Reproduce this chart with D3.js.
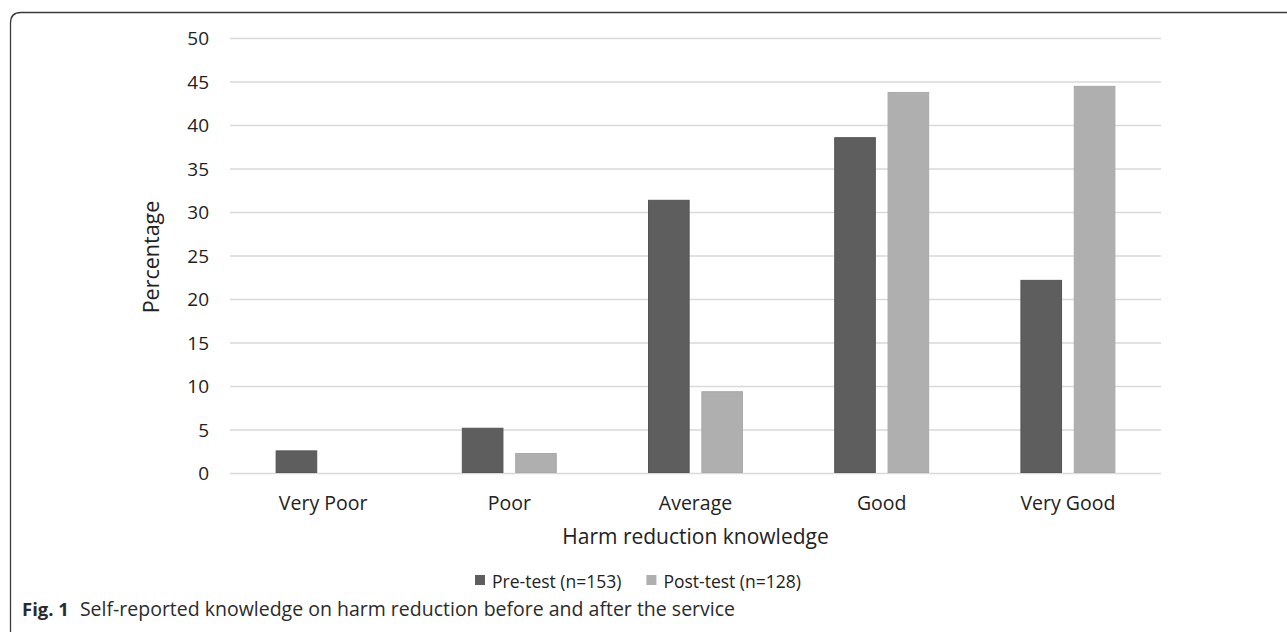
<!DOCTYPE html>
<html>
<head>
<meta charset="utf-8">
<script src="https://cdn.jsdelivr.net/npm/d3@7/dist/d3.min.js"></script>
<style>
  html, body { margin: 0; padding: 0; background: #fff; }
  svg { display: block; }
</style>
</head>
<body>
<svg id="chart" width="1287" height="632"></svg>
<script>
const categories = ["Very Poor", "Poor", "Average", "Good", "Very Good"];
const seriesNames = ["Pre-test (n=153)", "Post-test (n=128)"];
const preTest = [2.6, 5.2, 31.4, 38.6, 22.2];
const postTest = [0, 2.3, 9.4, 43.8, 44.5];
const yTicks = [0, 5, 10, 15, 20, 25, 30, 35, 40, 45, 50];
const xTitle = "Harm reduction knowledge";
const yTitle = "Percentage";
const captionBold = "Fig. 1";
const captionText = "Self-reported knowledge on harm reduction before and after the service";

const colors = ["#5e5e5e", "#afafaf"];
const strokes = ["#555555", "#a9a9a9"];
const font = "'Open Sans', 'Noto Sans', sans-serif";
const textColor = "#222222";

const svg = d3.select("#chart");

// Frame (rounded top-left corner, open right/bottom)
svg.append("path")
  .attr("d", "M10.5,632 L10.5,23 Q10.5,12.5 21,12.5 L1287,12.5")
  .attr("fill", "none").attr("stroke", "#3a3a3a").attr("stroke-width", 1.3);

const plotLeft = 230, plotRight = 1161, plotTop = 38, plotBottom = 473;

const y = d3.scaleLinear().domain([0, 50]).range([plotBottom, plotTop]);
const x0 = d3.scaleBand().domain(categories).range([plotLeft, plotRight])
  .paddingInner(0.49).paddingOuter(0.245);
const x1 = d3.scaleBand().domain(seriesNames).range([0, x0.bandwidth()]).paddingInner(0.22);

// Gridlines
const yAxis = d3.axisLeft(y).tickValues(yTicks).tickSize(-(plotRight - plotLeft)).tickPadding(21);
const gy = svg.append("g").attr("transform", `translate(${plotLeft},0)`).call(yAxis);
gy.select(".domain").remove();
gy.selectAll(".tick line").attr("stroke", "#d9d9d9").attr("stroke-width", 1.6);
gy.selectAll(".tick text").attr("fill", textColor).attr("font-family", font)
  .attr("font-size", 19).attr("dy", "0.36em");

// Bars
const data = categories.map((c, i) => ({ cat: c, vals: [preTest[i], postTest[i]] }));
const groups = svg.append("g").selectAll("g").data(data).join("g")
  .attr("transform", d => `translate(${x0(d.cat)},0)`);
groups.selectAll("rect").data(d => d.vals.map((v, j) => ({ v, j })).filter(d => d.v > 0))
  .join("rect")
  .attr("x", d => x1(seriesNames[d.j]) + 0.5)
  .attr("y", d => y(d.v) + 0.5)
  .attr("width", x1.bandwidth() - 1)
  .attr("height", d => Math.max(0, y(0) - y(d.v) - 1))
  .attr("fill", d => colors[d.j])
  .attr("stroke", d => strokes[d.j])
  .attr("stroke-width", 1);

// X axis labels
const xAxis = d3.axisBottom(x0).tickSize(0).tickPadding(0);
const gx = svg.append("g").attr("transform", `translate(0,${plotBottom})`).call(xAxis);
gx.select(".domain").remove();
gx.selectAll(".tick text").attr("fill", textColor).attr("font-family", font)
  .attr("font-size", 19.5).attr("dy", null).attr("y", 37);

// Axis titles
svg.append("text").attr("x", (plotLeft + plotRight) / 2).attr("y", 544)
  .attr("text-anchor", "middle").attr("font-family", font).attr("font-size", 21)
  .attr("fill", textColor).text(xTitle);
svg.append("text").attr("transform", "translate(159,257) rotate(-90)")
  .attr("text-anchor", "middle").attr("font-family", font).attr("font-size", 21.5)
  .attr("fill", textColor).text(yTitle);

// Legend
const legend = svg.append("g");
let lx = 475;
seriesNames.forEach((name, j) => {
  legend.append("rect").attr("x", lx).attr("y", 575).attr("width", 10).attr("height", 10)
    .attr("fill", colors[j]);
  const t = legend.append("text").attr("x", lx + 17).attr("y", 588)
    .attr("font-family", font).attr("font-size", 17.5).attr("fill", textColor).text(name);
  lx = lx + 17 + t.node().getComputedTextLength() + 25;
});

// Caption
const cap = svg.append("text").attr("x", 22).attr("y", 616)
  .attr("font-family", font).attr("font-size", 19.5).attr("fill", "#2b2b2b");
cap.append("tspan").attr("font-weight", 700).attr("font-size", 18.5).text(captionBold);
cap.append("tspan").attr("dx", 11).attr("font-weight", 400).text(captionText);
</script>
</body>
</html>
